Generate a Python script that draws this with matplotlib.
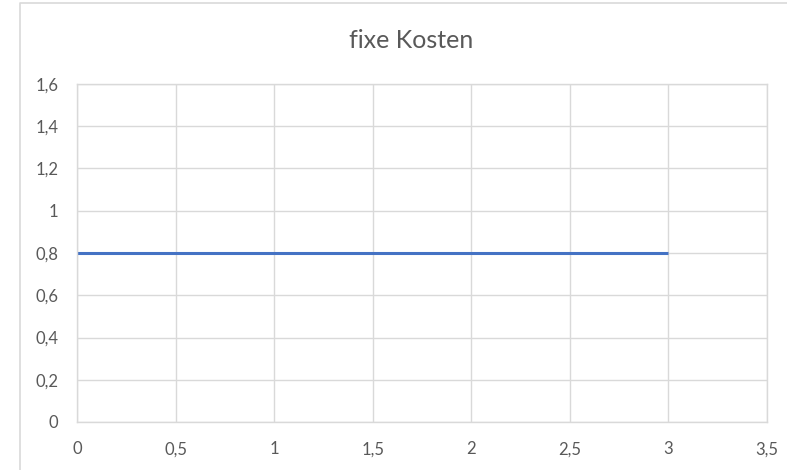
import matplotlib.pyplot as plt
from matplotlib.lines import Line2D
from matplotlib.ticker import FuncFormatter, MultipleLocator

plt.rcParams['font.family'] = ['Lato', 'DejaVu Sans']

# Fixed costs stay constant over the output quantity
menge = [0, 1, 2, 3]
kosten = [0.8, 0.8, 0.8, 0.8]

titel = 'fixe Kosten'
text_farbe = '#595959'
gitter_farbe = '#D9D9D9'
linien_farbe = '#4472C4'


def komma(wert, pos):
    # German decimal comma, no trailing zeros
    s = f'{wert:.1f}'.rstrip('0').rstrip('.')
    return s.replace('.', ',')


fig = plt.figure(figsize=(7.87, 4.70), dpi=100)
ax = fig.add_axes([77 / 787, 1 - 422 / 470, 690 / 787, 338 / 470])

ax.plot(menge, kosten, color=linien_farbe, linewidth=2.2, solid_capstyle='butt')

ax.set_xlim(0, 3.5)
ax.set_ylim(0, 1.6)
ax.xaxis.set_major_locator(MultipleLocator(0.5))
ax.yaxis.set_major_locator(MultipleLocator(0.2))
ax.xaxis.set_major_formatter(FuncFormatter(komma))
ax.yaxis.set_major_formatter(FuncFormatter(komma))

ax.grid(True, color=gitter_farbe, linewidth=1.0)
ax.set_axisbelow(True)
for spine in ax.spines.values():
    spine.set_color(gitter_farbe)
    spine.set_linewidth(1.0)

ax.tick_params(axis='both', length=0, colors=text_farbe, labelsize=12)
ax.tick_params(axis='y', pad=13.5)
ax.tick_params(axis='x', pad=14)

fig.text(411 / 787, 1 - 41 / 470, titel, ha='center', va='center',
         fontsize=18, color=text_farbe)

# outer chart frame (left and top edge visible)
fig.add_artist(Line2D([20 / 787, 20 / 787, 1.0], [0.0, 1 - 2.5 / 470, 1 - 2.5 / 470],
                      transform=fig.transFigure, color=gitter_farbe, linewidth=1.2))

fig.savefig('out.png', dpi=100)
